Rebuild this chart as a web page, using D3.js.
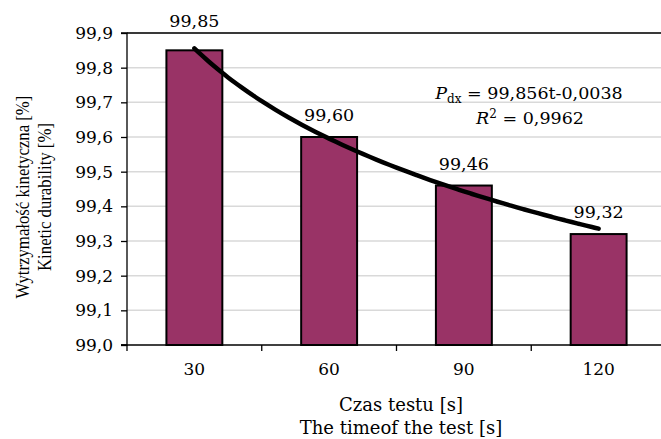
<!DOCTYPE html>
<html><head><meta charset="utf-8">
<script src="https://cdn.jsdelivr.net/npm/d3@7"></script>
<style>body{margin:0;background:#fff;} svg{display:block;font-family:"DejaVu Serif",serif;}</style>
</head><body><svg id="c" width="661" height="439"></svg>
<script>
const categories = ["30", "60", "90", "120"];
const values = [99.85, 99.60, 99.46, 99.32];
const valueLabels = ["99,85", "99,60", "99,46", "99,32"];
const yTicks = [99.0, 99.1, 99.2, 99.3, 99.4, 99.5, 99.6, 99.7, 99.8, 99.9];
const yTickLabels = ["99,0", "99,1", "99,2", "99,3", "99,4", "99,5", "99,6", "99,7", "99,8", "99,9"];
const yTitle = ["Wytrzymałość kinetyczna [%]", "Kinetic durability [%]"];
const xTitle = ["Czas testu [s]", "The timeof the test [s]"];

const svg = d3.select("#c");
const L = 127, R = 666, T = 33, B = 345;
const x = d3.scaleBand().domain(categories).range([L, R]).paddingInner(0.585).paddingOuter(0.2925);
const y = d3.scaleLinear().domain([99.0, 99.9]).range([B, T]);
const numFont = "DejaVu Serif";

// gridlines
svg.append("g").selectAll("line").data(yTicks.slice(1)).join("line")
  .attr("x1", L).attr("x2", R).attr("y1", d => y(d)).attr("y2", d => y(d))
  .attr("stroke", "#d9d9d9").attr("stroke-width", 1.5);
svg.append("line").attr("x1", L).attr("x2", R).attr("y1", T).attr("y2", T).attr("stroke", "#000").attr("stroke-width", 1.5);

// bars
svg.append("g").selectAll("rect").data(values).join("rect")
  .attr("x", (d, i) => x(categories[i])).attr("width", x.bandwidth())
  .attr("y", d => y(d)).attr("height", d => y(99.0) - y(d))
  .attr("fill", "#993366").attr("stroke", "#000").attr("stroke-width", 2);

// y axis
const yAxis = d3.axisLeft(y).tickValues(yTicks).tickFormat((d, i) => yTickLabels[i]).tickSize(6).tickPadding(8);
const gy = svg.append("g").attr("transform", `translate(${L},0)`).call(yAxis);
gy.select(".domain").attr("stroke", "#000").attr("stroke-width", 1.3).attr("d", `M-6,${T}H0V${B}H-6`);
gy.selectAll("line").attr("stroke-width", 1.3);
gy.selectAll("text").attr("font-size", 17).attr("font-family", numFont).attr("fill", "#000");

// x axis
svg.append("line").attr("x1", L - 6).attr("x2", R).attr("y1", B).attr("y2", B).attr("stroke", "#000").attr("stroke-width", 1.3);
const bounds = categories.slice(1).map(c => x(c) - x.step() * x.paddingInner() / 2);
svg.append("g").selectAll("line").data([L, ...bounds]).join("line")
  .attr("x1", d => d).attr("x2", d => d).attr("y1", B).attr("y2", B + 6).attr("stroke", "#000").attr("stroke-width", 1.3);
svg.append("g").selectAll("text").data(categories).join("text")
  .attr("x", d => x(d) + x.bandwidth() / 2).attr("y", 375).attr("text-anchor", "middle")
  .attr("font-size", 17).attr("font-family", numFont).text(d => d);

// trend line: least-squares power fit on category index
const lx = values.map((d, i) => Math.log(i + 1)), ly = values.map(d => Math.log(d));
const mx = d3.mean(lx), my = d3.mean(ly);
const b = d3.sum(lx.map((v, i) => (v - mx) * (ly[i] - my))) / d3.sum(lx.map(v => (v - mx) ** 2));
const a = Math.exp(my - b * mx);
const cx = i => x(categories[0]) + x.bandwidth() / 2 + (i - 1) * x.step();
const pts = d3.range(1, 4.0001, 0.05).map(t => [cx(t), y(a * Math.pow(t, b))]);
svg.append("path").attr("d", d3.line().curve(d3.curveCatmullRom)(pts))
  .attr("fill", "none").attr("stroke", "#000").attr("stroke-width", 4.5).attr("stroke-linecap", "round");

// value labels
svg.append("g").selectAll("text").data(values).join("text")
  .attr("x", (d, i) => x(categories[i]) + x.bandwidth() / 2)
  .attr("y", d => (y(d) - 16 - 14 < T) ? T - 6 : y(d) - 16).attr("text-anchor", "middle")
  .attr("font-size", 17.5).attr("font-family", numFont).text((d, i) => valueLabels[i]);

// equation
const eq = svg.append("text").attr("x", 529).attr("y", 99).attr("text-anchor", "middle").attr("font-size", 17.5).attr("font-family", numFont);
eq.append("tspan").attr("font-style", "italic").text("P");
eq.append("tspan").attr("font-size", 12).attr("dy", 4).text("dx");
eq.append("tspan").attr("dy", -4).text(" = 99,856t-0,0038");
const r2 = svg.append("text").attr("x", 530).attr("y", 124).attr("text-anchor", "middle").attr("font-size", 17.5).attr("font-family", numFont);
r2.append("tspan").attr("font-style", "italic").text("R");
r2.append("tspan").attr("font-size", 12).attr("dy", -6).text("2");
r2.append("tspan").attr("dy", 6).text(" = 0,9962");

// axis titles
yTitle.forEach((t, i) => {
  svg.append("text").attr("transform", `translate(${29 + i * 22},197) rotate(-90) scale(0.86,1)`)
    .attr("text-anchor", "middle").attr("font-size", 19.5).attr("font-family", "Liberation Serif").text(t);
});
xTitle.forEach((t, i) => {
  svg.append("text").attr("x", 401).attr("y", 411 + i * 23).attr("text-anchor", "middle")
    .attr("font-size", 18).attr("font-family", numFont).text(t);
});
</script></body></html>
